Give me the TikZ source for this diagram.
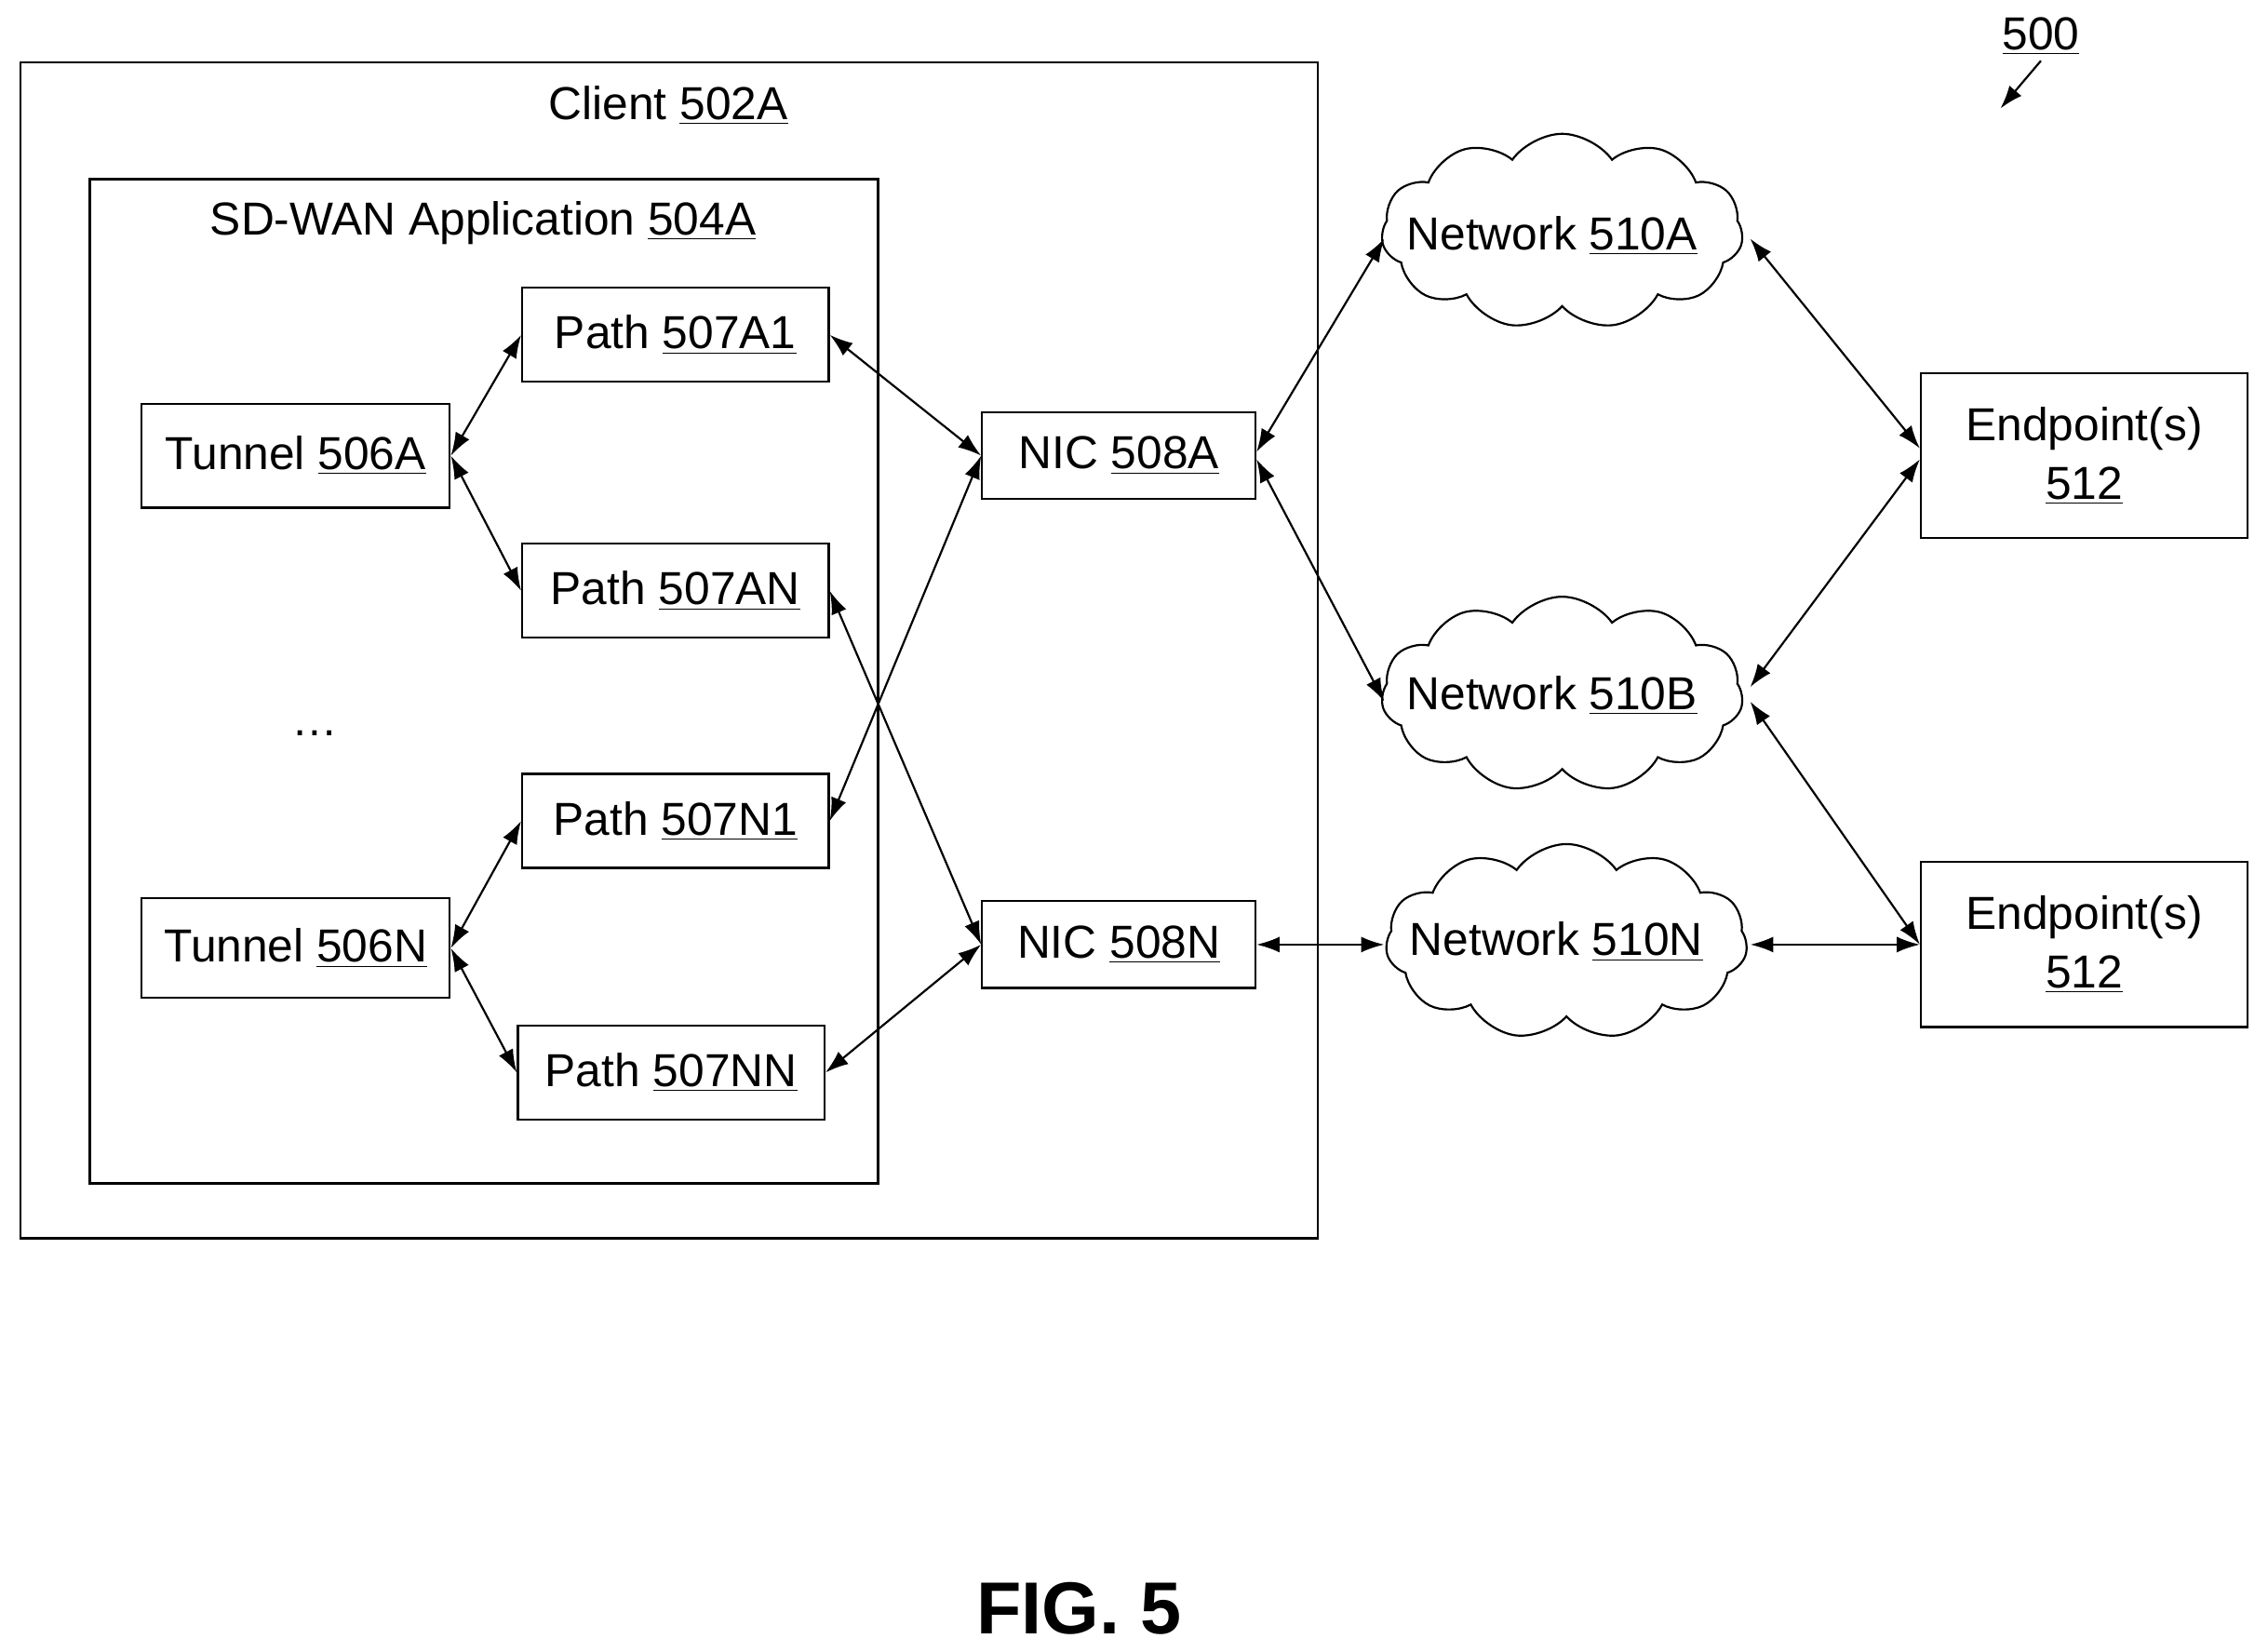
\documentclass[tikz,border=0pt]{standalone}
\usepackage{fontspec}
\setmainfont{Liberation Sans}
\usetikzlibrary{shapes.symbols,arrows.meta}
\newcommand{\ulab}[1]{\underline{#1}}
\begin{document}
\fontsize{18.2}{21}\selectfont
\begin{tikzpicture}[x=0.02cm,y=-0.02cm,
  bx/.style={draw,line width=0.8pt},
  arr/.style={{Latex[length=0.32cm,width=0.22cm]}-{Latex[length=0.32cm,width=0.22cm]},line width=0.8pt},
  cl/.style={draw,cloud,cloud puffs=11,cloud puff arc=110,aspect=2,minimum width=5.0cm,minimum height=2.7cm,line width=0.8pt}]
\useasboundingbox (0,0) rectangle (1568,1142);
\draw[line width=0.9pt] (14,43) rectangle (911,856);
\node (client) at (462,73) {Client \ulab{502A}};
\draw[line width=0.9pt] (62,124) rectangle (607,818);
\node (sdwan) at (334,154) {SD-WAN Application \ulab{504A}};
\node[bx,minimum width=4.26cm,minimum height=1.44cm] (t1) at (204.5,315) {Tunnel \ulab{506A}};
\node[bx,minimum width=4.26cm,minimum height=1.38cm] (tn) at (204.5,655.5) {Tunnel \ulab{506N}};
\node[bx,minimum width=4.24cm,minimum height=1.3cm] (pa1) at (467,231.5) {Path \ulab{507A1}};
\node[bx,minimum width=4.24cm,minimum height=1.3cm] (pan) at (467,408.5) {Path \ulab{507AN}};
\node[bx,minimum width=4.24cm,minimum height=1.3cm] (pn1) at (467,567.5) {Path \ulab{507N1}};
\node[bx,minimum width=4.24cm,minimum height=1.3cm] (pnn) at (464,741.5) {Path \ulab{507NN}};
\node (dots) at (218,507) {\dots};
\node[bx,minimum width=3.78cm,minimum height=1.2cm] (na) at (773.5,315) {NIC \ulab{508A}};
\node[bx,minimum width=3.78cm,minimum height=1.2cm] (nn) at (773.5,653) {NIC \ulab{508N}};
\node[cl] (ca) at (1080,160) {};
\node[cl] (cb) at (1080,480) {};
\node[cl] (cn) at (1083,651) {};
\node (la) at (1073,163) {Network \ulab{510A}};
\node (lb) at (1073,481) {Network \ulab{510B}};
\node (ln) at (1076,651) {Network \ulab{510N}};
\node[bx,minimum width=4.52cm,minimum height=2.28cm,align=center] (e1) at (1441,315) {Endpoint(s)\\[2pt]\ulab{512}};
\node[bx,minimum width=4.52cm,minimum height=2.28cm,align=center] (e2) at (1441,653) {Endpoint(s)\\[2pt]\ulab{512}};
\node (n500) at (1411,25) {\ulab{500}};
\coordinate (a0) at (1411,42);
\coordinate (a1) at (1383,75);
\draw[-{Latex[length=0.32cm,width=0.22cm]},line width=0.8pt] (a0) -- (a1);
\node[font=\fontsize{29}{32}\selectfont\bfseries] (fig) at (746,1112) {FIG. 5};
\draw[arr] (t1.east) -- (pa1.west);
\draw[arr] (t1.east) -- (pan.west);
\draw[arr] (tn.east) -- (pn1.west);
\draw[arr] (tn.east) -- (pnn.west);
\draw[arr] (pa1.east) -- (na.west);
\draw[arr] (pn1.east) -- (na.west);
\draw[arr] (pan.east) -- (nn.west);
\draw[arr] (pnn.east) -- (nn.west);
\draw[arr] ([yshift=0.05cm]na.east) -- (957,165);
\draw[arr] ([yshift=-0.05cm]na.east) -- (957,485);
\draw[arr] (nn.east) -- (957,653);
\draw[arr] (1210,165) -- ([yshift=0.1cm]e1.west);
\draw[arr] (1210,475) -- ([yshift=-0.05cm]e1.west);
\draw[arr] (1210,485) -- (e2.west);
\draw[arr] (1210,653) -- (e2.west);
\end{tikzpicture}
\end{document}
